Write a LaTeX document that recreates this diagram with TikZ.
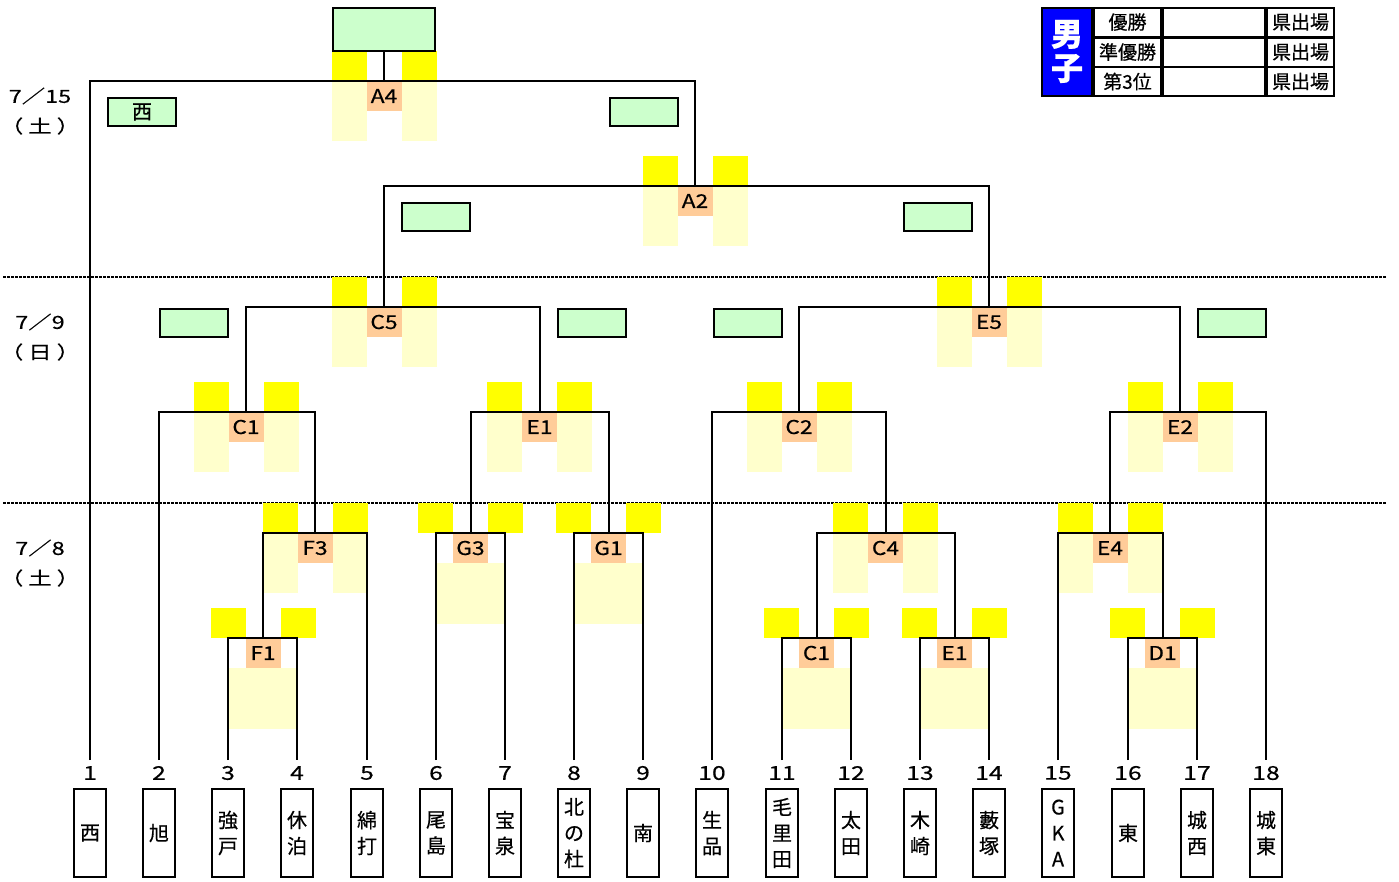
\documentclass[tikz,border=0pt]{standalone}
\usepackage{fontspec}
\setmainfont{Noto Sans CJK JP}[FakeBold=0.5]
\newfontfamily\widefont{Noto Sans CJK JP}[FakeStretch=1.3,FakeBold=0.5]
\newfontfamily\labfont{Noto Sans CJK JP}[FakeStretch=1.2,FakeBold=0.5]
\definecolor{lgreen}{HTML}{CCFFCC}
\definecolor{yel}{HTML}{FFFF00}
\definecolor{lyel}{HTML}{FFFFCC}
\definecolor{orng}{HTML}{FFCC99}
\definecolor{lblue}{HTML}{0000FF}
\newcommand\matchB[4]{%
  \fill[lyel] ({#1-52.5},#2) rectangle ({#1-17.5},{#2+60});
  \fill[lyel] ({#1+17.5},#2) rectangle ({#1+52.5},{#2+60});
  \fill[yel] ({#1-52.5},{#2-30}) rectangle ({#1-17.5},#2);
  \fill[yel] ({#1+17.5},{#2-30}) rectangle ({#1+52.5},#2);
  \coordinate (m#3) at (#1,#2);
  \node[lab] (#3) at (#1,{#2+15}) {#4};
}
\newcommand\matchA[4]{%
  \fill[lyel] ({#1-34.5},{#2+30}) rectangle ({#1+34.5},{#2+91});
  \fill[yel] ({#1-52.5},{#2-30}) rectangle ({#1-17.5},#2);
  \fill[yel] ({#1+17.5},{#2-30}) rectangle ({#1+52.5},#2);
  \coordinate (m#3) at (#1,#2);
  \node[lab] (#3) at (#1,{#2+15}) {#4};
}
\begin{document}
\begin{tikzpicture}[x=1pt,y=-1pt,
  br/.style={line width=2pt, line join=miter},
  lab/.style={fill=orng, minimum width=35pt, minimum height=30pt, inner sep=0pt, font=\labfont\fontsize{19}{19}\selectfont},
  gbox/.style={draw, line width=2pt, fill=lgreen, minimum width=68pt, minimum height=28pt, inner sep=0pt, font=\fontsize{20}{20}\selectfont},
  team/.style={draw, line width=2pt, minimum width=32pt, minimum height=88pt, inner sep=0pt, align=center, font=\fontsize{20}{26}\selectfont},
  num/.style={inner sep=0pt, font=\widefont\fontsize{19}{19}\selectfont},
  datel/.style={inner sep=0pt, font=\widefont\fontsize{18}{18}\selectfont},
  cell/.style={draw, line width=2pt, minimum height=29pt, inner sep=0pt, font=\fontsize{19}{19}\selectfont},
  dotline/.style={line width=1.5pt, dash pattern=on 3pt off 1pt}]
\useasboundingbox (0,0) rectangle (1399,881);
% separators
\draw[dotline] (3,277) -- (1386,277);
\draw[dotline] (3,503) -- (1386,503);
% dates
\node[datel] (d1) at (40,96) {7／15};
\node[datel] (d2) at (40,126) {（\kern5pt 土\kern5pt ）};
\node[datel] (d3) at (40,322) {7／9};
\node[datel] (d4) at (40,352) {（\kern5pt 日\kern5pt ）};
\node[datel] (d5) at (40,548) {7／8};
\node[datel] (d6) at (40,578) {（\kern5pt 土\kern5pt ）};
% teams
\foreach \i/\x/\nm in {1/90/西, 2/159/旭, 3/228/{強\\戸}, 4/297/{休\\泊}, 5/367/{綿\\打},
  6/436/{尾\\島}, 7/505/{宝\\泉}, 8/574/{北\\の\\杜}, 9/643/南, 10/712/{生\\品},
  11/782/{毛\\里\\田}, 12/851/{太\\田}, 13/920/{木\\崎}, 14/989/{藪\\塚},
  15/1058/{G\\K\\A}, 16/1128/東, 17/1197/{城\\西}, 18/1266/{城\\東}}{
  \coordinate (t\i) at (\x,760);
  \node[num] (n\i) at (\x,773) {\i};
  \node[team] (b\i) at (\x,833) {\nm};
}
% match decorations
\matchA{263}{638}{F1}{F1}
\matchA{816.5}{638}{C1b}{C1}
\matchA{954.5}{638}{E1b}{E1}
\matchA{1162.5}{638}{D1}{D1}
\matchB{315}{533}{F3}{F3}
\matchA{470.5}{533}{G3}{G3}
\matchA{608.5}{533}{G1}{G1}
\matchB{885.5}{533}{C4}{C4}
\matchB{1110}{533}{E4}{E4}
\matchB{246}{412}{C1}{C1}
\matchB{539.5}{412}{E1}{E1}
\matchB{799}{412}{C2}{C2}
\matchB{1180}{412}{E2}{E2}
\matchB{384}{307}{C5}{C5}
\matchB{989}{307}{E5}{E5}
\matchB{695}{186}{A2}{A2}
\matchB{384}{81}{A4}{A4}
% green boxes
\node[gbox, minimum width=102pt, minimum height=43pt] (champ) at (384,29.5) {};
\node[gbox] (g1) at (142,112) {西};
\node[gbox] (g2) at (643.5,112) {};
\node[gbox] (g3) at (436,217) {};
\node[gbox] (g4) at (937.5,217) {};
\node[gbox] (g5) at (194,323) {};
\node[gbox] (g6) at (591.5,323) {};
\node[gbox] (g7) at (747.5,323) {};
\node[gbox] (g8) at (1231.5,323) {};
% brackets
\draw[br] (t3) |- (mF1) -| (t4);
\draw[br] (t11) |- (mC1b) -| (t12);
\draw[br] (t13) |- (mE1b) -| (t14);
\draw[br] (t16) |- (mD1) -| (t17);
\draw[br] (mF1) |- (mF3) -| (t5);
\draw[br] (t6) |- (mG3) -| (t7);
\draw[br] (t8) |- (mG1) -| (t9);
\draw[br] (mC1b) |- (mC4) -| (mE1b);
\draw[br] (t15) |- (mE4) -| (mD1);
\draw[br] (t2) |- (mC1) -| (mF3);
\draw[br] (mG3) |- (mE1) -| (mG1);
\draw[br] (t10) |- (mC2) -| (mC4);
\draw[br] (mE4) |- (mE2) -| (t18);
\draw[br] (mC1) |- (mC5) -| (mE1);
\draw[br] (mC2) |- (mE5) -| (mE2);
\draw[br] (mC5) |- (mA2) -| (mE5);
\draw[br] (t1) |- (mA4) -| (mA2);
\draw[br] (mA4) -- (champ.south);
% legend
\node[draw, line width=2pt, fill=lblue, text=white, minimum width=50pt, minimum height=88pt, inner sep=0pt, align=center, font=\fontsize{32}{34}\bfseries\selectfont] (lg) at (1067,51.5) {男\\子};
\node[cell, minimum width=67pt] (r1a) at (1127.5,22) {優勝};
\node[cell, minimum width=102pt] (r1b) at (1214,22) {};
\node[cell, minimum width=67pt] (r1c) at (1300.5,22) {県出場};
\node[cell, minimum width=67pt] (r2a) at (1127.5,52) {準優勝};
\node[cell, minimum width=102pt] (r2b) at (1214,52) {};
\node[cell, minimum width=67pt] (r2c) at (1300.5,52) {県出場};
\node[cell, minimum width=67pt] (r3a) at (1127.5,81.5) {第3位};
\node[cell, minimum width=102pt] (r3b) at (1214,81.5) {};
\node[cell, minimum width=67pt] (r3c) at (1300.5,81.5) {県出場};
\end{tikzpicture}
\end{document}
